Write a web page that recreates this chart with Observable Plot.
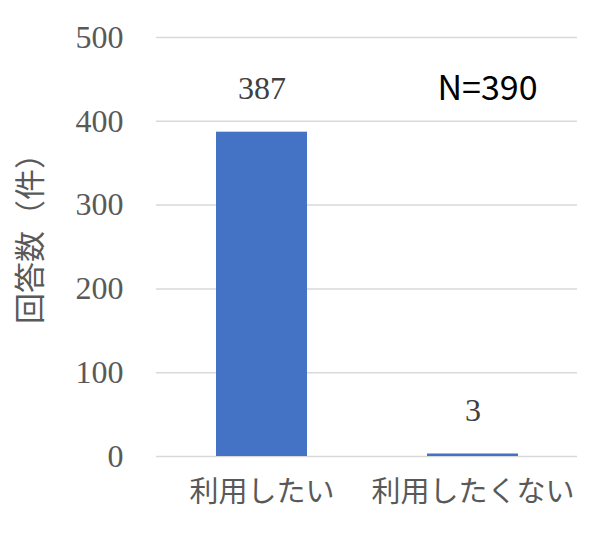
<!DOCTYPE html>
<html><head><meta charset="utf-8">
<script src="https://cdn.jsdelivr.net/npm/d3@7"></script>
<script src="https://cdn.jsdelivr.net/npm/@observablehq/plot@0.6"></script>
<style>body{margin:0;background:#fff}</style>
</head><body><div id="chart"></div>
<script>
const categories = ["利用したい", "利用したくない"];
const counts = [387, 3];
const yTicks = [0, 100, 200, 300, 400, 500];
const yLabel = "回答数（件）";
const note = "N=390";

const data = categories.map((c, i) => ({category: c, count: counts[i]}));
const sans = "'Noto Sans CJK JP', 'Noto Sans', sans-serif";
const serif = "'Liberation Serif', 'DejaVu Serif', serif";

const chart = Plot.plot({
  width: 600, height: 535,
  marginLeft: 156, marginRight: 23, marginTop: 37, marginBottom: 79,
  style: {background: "#fff"},
  x: {domain: categories, paddingInner: 0.569, paddingOuter: 0.282, label: null},
  y: {domain: [0, 500], ticks: yTicks, label: null},
  marks: [
    Plot.gridY(yTicks, {stroke: "#d9d9d9", strokeOpacity: 1, strokeWidth: 1.5}),
    Plot.barY(data, {x: "category", y: "count", fill: "#4472C4"}),
    Plot.axisY({ticks: yTicks, tickSize: 0, tickPadding: 33, fontSize: 32, fontFamily: serif, fill: "#595959", label: null}),
    Plot.axisX({tickSize: 0, tickPadding: 25, fontSize: 29, fontFamily: sans, fill: "#595959", label: null}),
    Plot.text(data, {x: "category", y: "count", text: d => String(d.count), dy: -43, fontSize: 32, fontFamily: serif, fill: "#404040"}),
    Plot.text([note], {frameAnchor: "top-right", textAnchor: "end", dx: -40, dy: 38, fontSize: 34, fontFamily: sans, fill: "#000"}),
    Plot.text([yLabel], {frameAnchor: "left", textAnchor: "middle", dx: -125, dy: -16, rotate: -90, fontSize: 31, fontFamily: sans, fill: "#595959"})
  ]
});
document.getElementById("chart").appendChild(chart);
</script>
</body></html>
